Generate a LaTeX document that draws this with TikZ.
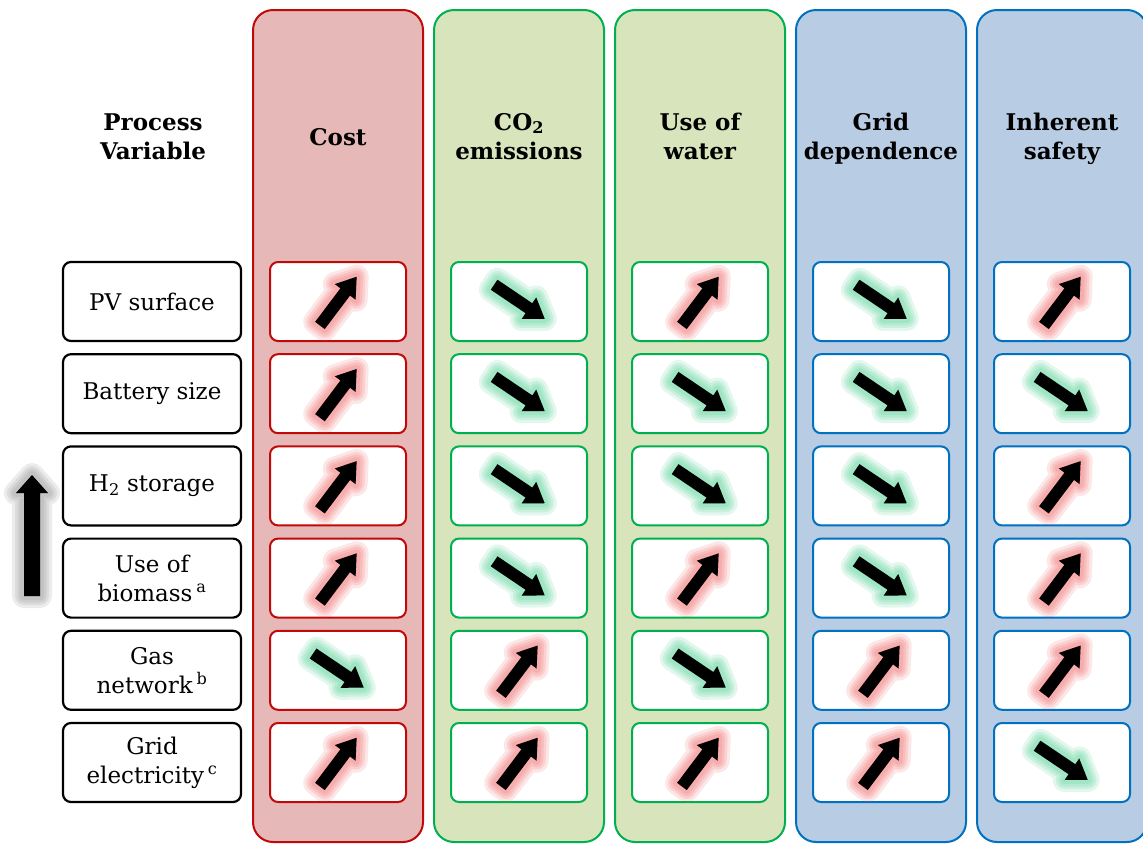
\documentclass[tikz,border=0pt]{standalone}
\usepackage{fontspec}
\setmainfont{DejaVu Serif}
\definecolor{costred}{RGB}{192,10,10}
\definecolor{costfill}{RGB}{230,184,183}
\definecolor{envgreen}{RGB}{0,176,80}
\definecolor{envfill}{RGB}{216,228,188}
\definecolor{gridblue}{RGB}{0,112,192}
\definecolor{gridfill}{RGB}{184,204,228}
\definecolor{glowred}{RGB}{240,80,80}
\definecolor{glowgreen}{RGB}{50,200,130}
\begin{document}
\begin{tikzpicture}
  [x=1pt,y=-1pt,
   column/.style={rounded corners=20pt,line width=2pt,minimum width=170pt,minimum height=832pt},
   cell/.style={draw,fill=white,rounded corners=8pt,line width=2pt,minimum width=136pt,minimum height=79pt},
   var/.style={draw=black,fill=white,rounded corners=8pt,line width=2.2pt,minimum width=178pt,minimum height=79pt,
     align=center,font=\fontsize{23}{29}\selectfont},
   head/.style={align=center,font=\fontsize{23}{29}\selectfont\bfseries},
   head2/.style={head,text height=46pt,text depth=6pt},
   glowcol/.store in=\glowcol,
   rise/.style={rotate=53,glowcol=glowred},
   fall/.style={rotate=-34,glowcol=glowgreen},
   trend/.pic={
     \foreach \w in {24,18,13,8}
       \draw[draw=\glowcol,fill=\glowcol,opacity=0.14,line width=\w pt,line join=round]
         (-30,-6) -- (12,-6) -- (12,-13) -- (31,0) -- (12,13) -- (12,6) -- (-30,6) -- cycle;
     \fill[black] (-30,-6) -- (12,-6) -- (12,-13) -- (31,0) -- (12,13) -- (12,6) -- (-30,6) -- cycle;
   }]
  \useasboundingbox (0,0) rectangle (1143,844);

  % criteria columns
  \node (cost)[column,draw=costred,fill=costfill] at (338,426) {};
  \node (co2)[column,draw=envgreen,fill=envfill] at (519,426) {};
  \node (water)[column,draw=envgreen,fill=envfill] at (700,426) {};
  \node (grid)[column,draw=gridblue,fill=gridfill] at (881,426) {};
  \node (safety)[column,draw=gridblue,fill=gridfill] at (1062,426) {};

  \node (hvar)[head2] at (153,139) {Process\\Variable};
  \node (hcost)[head] at (338,137) {Cost};
  \node (hco2)[head2] at (519,139) {CO\textsubscript{2}\\emissions};
  \node (hwater)[head2] at (700,139) {Use of\\water};
  \node (hgrid)[head2] at (881,139) {Grid\\dependence};
  \node (hsafety)[head2] at (1062,139) {Inherent\\safety};

  % process variables
  \node (var1)[var] at (152,301.5) {PV surface};
  \node (var2)[var] at (152,393.7) {Battery size};
  \node (var3)[var] at (152,485.9) {H\textsubscript{2} storage};
  \node (var4)[var] at (152,578.1) {Use of\\biomass\,\textsuperscript{a}};
  \node (var5)[var] at (152,670.3) {Gas\\network\,\textsuperscript{b}};
  \node (var6)[var] at (152,762.5) {Grid\\electricity\,\textsuperscript{c}};

  % increase arrow
  \foreach \w in {24,18,13,8}
    \draw[draw=gray,fill=gray,opacity=0.15,line width=\w pt,line join=round]
      (24,596) -- (24,493) -- (16,493) -- (32,475) -- (48,493) -- (40,493) -- (40,596) -- cycle;
  \fill[black] (24,596) -- (24,493) -- (16,493) -- (32,475) -- (48,493) -- (40,493) -- (40,596) -- cycle;

  % cells
  \foreach \r/\y in {1/301.5,2/393.7,3/485.9,4/578.1,5/670.3,6/762.5}
    \foreach \c/\x/\col in {1/338/costred,2/519/envgreen,3/700/envgreen,4/881/gridblue,5/1062/gridblue}
      \node (c\c-\r)[cell,draw=\col] at (\x,\y) {};

  \foreach \r/\list in {1/{rise,fall,rise,fall,rise},2/{rise,fall,fall,fall,fall},3/{rise,fall,fall,fall,rise},
                        4/{rise,fall,rise,fall,rise},5/{fall,rise,fall,rise,rise},6/{rise,rise,rise,rise,fall}}
    \foreach \a [count=\c] in \list
      \pic[\a] at (c\c-\r) {trend};

\end{tikzpicture}
\end{document}
